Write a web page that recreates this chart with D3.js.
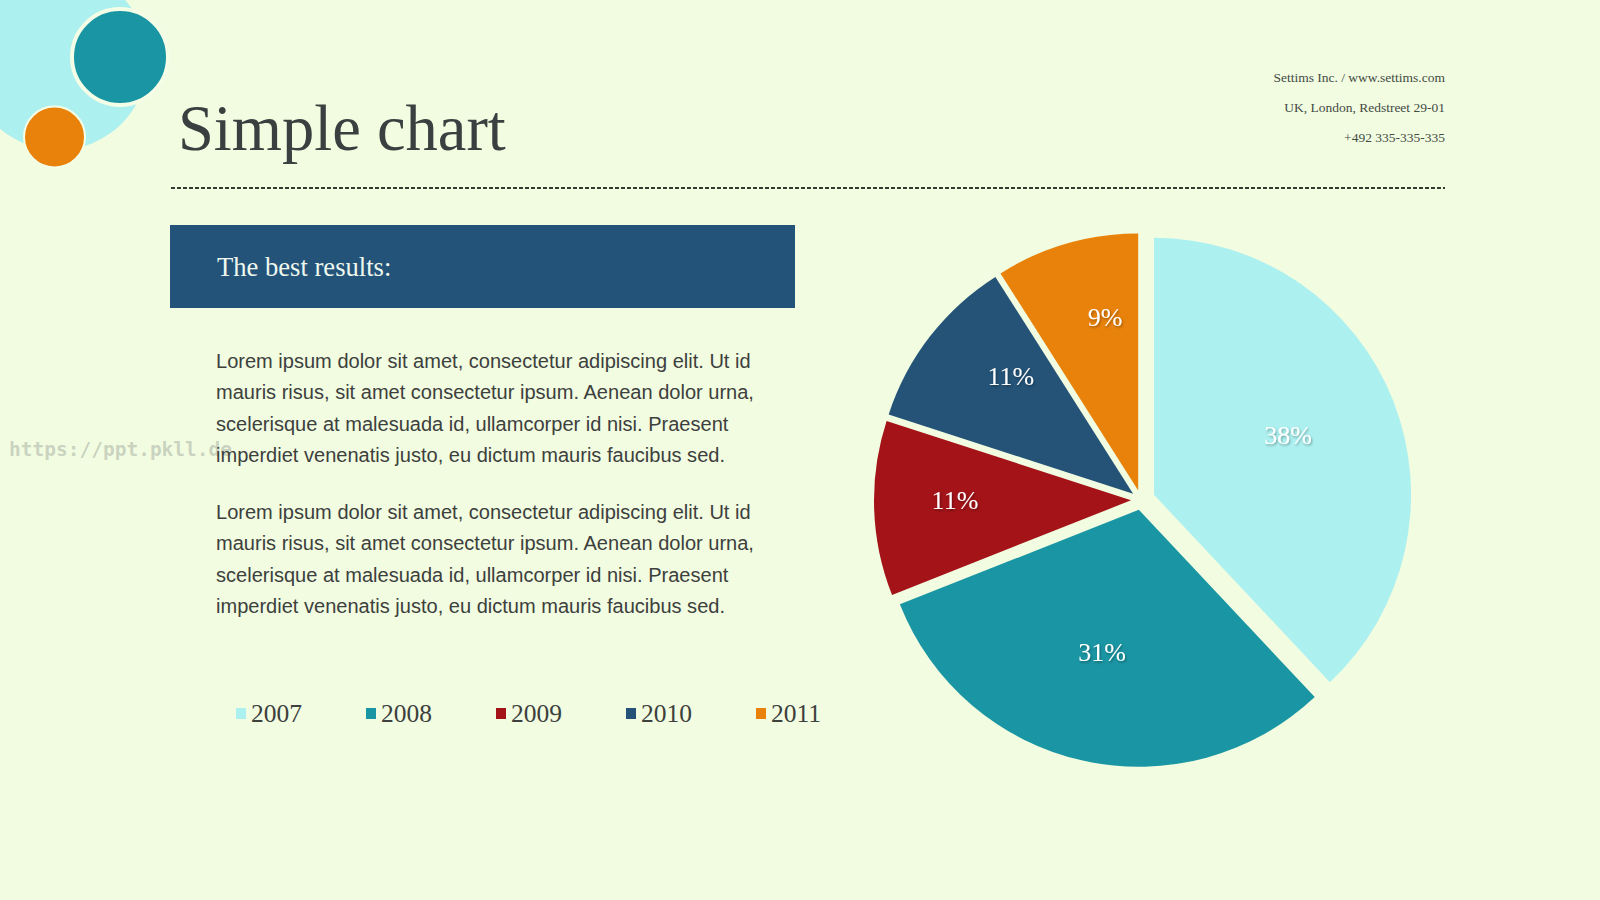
<!DOCTYPE html>
<html>
<head>
<meta charset="utf-8">
<script src="https://cdn.jsdelivr.net/npm/d3@7"></script>
<style>
  html, body { margin: 0; padding: 0; background: #f1fce1; }
  svg { display: block; }
</style>
</head>
<body>
<svg id="chart" width="1600" height="900"></svg>
<script>
// ---- data ----
const categories = ["2007", "2008", "2009", "2010", "2011"];
const shares = [38, 31, 11, 11, 9];
const colors = ["#adf0f0", "#1a95a3", "#a31318", "#245377", "#e8820a"];

const title = "Simple chart";
const companyLines = ["Settims Inc. / www.settims.com", "UK, London, Redstreet 29-01", "+492 335-335-335"];
const headerText = "The best results:";
const paragraph = [
  "Lorem ipsum dolor sit amet, consectetur adipiscing elit. Ut id",
  "mauris risus, sit amet consectetur ipsum. Aenean dolor urna,",
  "scelerisque at malesuada id, ullamcorper id nisi. Praesent",
  "imperdiet venenatis justo, eu dictum mauris faucibus sed."
];

// ---- style settings ----
const explodeBy = [14, 10, 10, 10, 10];
const labelFractions = [0.571, 0.572, 0.685, 0.662, 0.687];
const labelAngleShift = [-2.45, 1.9, 2.0, 6.3, 5.4]; // degrees

// ---- drawing ----
const svg = d3.select("#chart");
const bg = "#f1fce1";
svg.append("rect").attr("width", 1600).attr("height", 900).attr("fill", bg);

const defs = svg.append("defs");
const f = defs.append("filter").attr("id", "shadow").attr("x", "-20%").attr("y", "-20%").attr("width", "140%").attr("height", "140%");
f.append("feDropShadow").attr("dx", 1).attr("dy", 1.5).attr("stdDeviation", 0.8)
  .attr("flood-color", "#000").attr("flood-opacity", 0.35);

// decorative circles
const deco = svg.append("g");
deco.append("circle").attr("cx", 58).attr("cy", 60).attr("r", 90).attr("fill", "#adf0f0");
deco.append("circle").attr("cx", 120).attr("cy", 57).attr("r", 48).attr("fill", "#1a95a3")
  .attr("stroke", "#f4fde6").attr("stroke-width", 4);
deco.append("circle").attr("cx", 54.5).attr("cy", 137).attr("r", 30.5).attr("fill", "#e8820a")
  .attr("stroke", "#f4fde6").attr("stroke-width", 2);

// title
svg.append("text").attr("x", 178).attr("y", 150)
  .attr("font-family", "'Liberation Serif', 'Times New Roman', serif")
  .attr("font-size", 64.5).attr("fill", "#3a3f3f").text(title);

// company info
svg.append("g").selectAll("text").data(companyLines).join("text")
  .attr("x", 1445).attr("y", (d, i) => 82 + i * 30)
  .attr("text-anchor", "end")
  .attr("font-family", "'Liberation Serif', 'Times New Roman', serif")
  .attr("font-size", 13.5).attr("fill", "#444a44").text(d => d);

// dashed rule
svg.append("line").attr("x1", 171).attr("x2", 1445).attr("y1", 188).attr("y2", 188)
  .attr("stroke", "#323c32").attr("stroke-width", 1.9).attr("stroke-dasharray", "4,2");

// header box
svg.append("rect").attr("x", 170).attr("y", 225).attr("width", 625).attr("height", 83).attr("fill", "#245379");
svg.append("text").attr("x", 217).attr("y", 276)
  .attr("font-family", "'Liberation Serif', 'Times New Roman', serif")
  .attr("font-size", 26.6).attr("fill", "#eef8ee").text(headerText);

// watermark
svg.append("text").attr("x", 9).attr("y", 456)
  .attr("font-family", "'DejaVu Sans Mono', monospace").attr("font-weight", "bold")
  .attr("font-size", 19.5).attr("fill", "#9aa096").attr("fill-opacity", 0.45)
  .text("https://ppt.pkll.de");

// paragraphs
const paraTops = [368, 519];
paraTops.forEach(top => {
  const g = svg.append("g").attr("transform", `translate(216,0) scale(0.955,1)`);
  g.selectAll("text").data(paragraph).join("text")
    .attr("x", 0).attr("y", (d, i) => top + i * 31.3)
    .attr("font-family", "'Liberation Sans', Arial, sans-serif")
    .attr("font-size", 21).attr("fill", "#3d403d").text(d => d);
});

// legend
const legendX = d3.scalePoint().domain(categories).range([236, 756]);
const lg = svg.append("g").selectAll("g").data(categories).join("g")
  .attr("transform", d => `translate(${legendX(d)},0)`);
lg.append("rect").attr("x", 0).attr("y", 708).attr("width", 10).attr("height", 11)
  .attr("fill", (d, i) => colors[i]);
lg.append("text").attr("x", 15).attr("y", 722)
  .attr("font-family", "'Liberation Serif', 'Times New Roman', serif")
  .attr("font-size", 25.5).attr("fill", "#3d403d").text(d => d);

// pie
const cx = 1141, cy = 500, R = 257;
const pie = d3.pie().sort(null).value(d => d).startAngle(0).endAngle(2 * Math.PI);
const arcs = pie(shares);
const arc = d3.arc().innerRadius(0).outerRadius(R);
const pg = svg.append("g").attr("transform", `translate(${cx},${cy})`);
const slice = pg.selectAll("g.slice").data(arcs).join("g").attr("class", "slice")
  .attr("transform", (d, i) => {
    const a = (d.startAngle + d.endAngle) / 2;
    return `translate(${explodeBy[i] * Math.sin(a)},${-explodeBy[i] * Math.cos(a)})`;
  });
slice.append("path").attr("d", arc).attr("fill", (d, i) => colors[i]);
const labAngle = (d, i) => (d.startAngle + d.endAngle) / 2 + labelAngleShift[i] * Math.PI / 180;
slice.append("text")
  .attr("x", (d, i) => labelFractions[i] * R * Math.sin(labAngle(d, i)))
  .attr("y", (d, i) => -labelFractions[i] * R * Math.cos(labAngle(d, i)))
  .attr("dy", "0.35em")
  .attr("text-anchor", "middle")
  .attr("font-family", "'Liberation Serif', 'Times New Roman', serif")
  .attr("font-size", 26).attr("fill", "#ffffff")
  .attr("filter", "url(#shadow)")
  .text(d => d.data + "%");
</script>
</body>
</html>
